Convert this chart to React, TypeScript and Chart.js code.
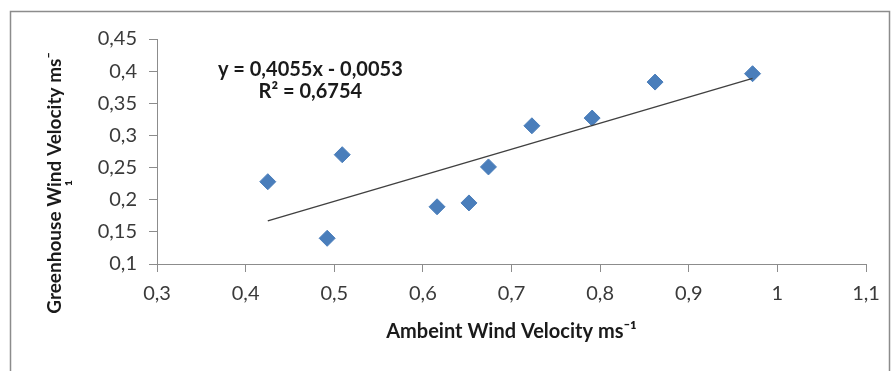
import React, { useEffect, useRef } from "react";
import { Chart, registerables } from "chart.js";

Chart.register(...registerables);

const ambientVelocity = [0.425, 0.492, 0.509, 0.616, 0.652, 0.674, 0.723, 0.791, 0.862, 0.972];
const greenhouseVelocity = [0.228, 0.14, 0.27, 0.189, 0.195, 0.251, 0.315, 0.327, 0.383, 0.396];
const xTickValues = [0.3, 0.4, 0.5, 0.6, 0.7, 0.8, 0.9, 1.0, 1.1];
const yTickValues = [0.1, 0.15, 0.2, 0.25, 0.3, 0.35, 0.4, 0.45];
const trendSlope = 0.4055;
const trendIntercept = -0.0053;
const equationLines = ["y = 0,4055x - 0,0053", "R² = 0,6754"];
const xTitle = "Ambeint Wind Velocity ms⁻¹";
const yTitleLines = ["Greenhouse Wind Velocity ms⁻", "¹"];

const fmt = (v: number) => String(Math.round(v * 100) / 100).replace(".", ",");

const FONT = "Lato, 'Open Sans', sans-serif";

const decorPlugin = {
  id: "decor",
  beforeDraw(chart: any) {
    const ctx = chart.ctx;
    ctx.save();
    ctx.fillStyle = "#ffffff";
    ctx.fillRect(0, 0, chart.width, chart.height);
    ctx.strokeStyle = "#8c8c8c";
    ctx.lineWidth = 1.5;
    ctx.beginPath();
    ctx.moveTo(10.5, chart.height + 5);
    ctx.lineTo(10.5, 11.5);
    ctx.lineTo(889.5, 11.5);
    ctx.lineTo(889.5, chart.height + 5);
    ctx.stroke();
    ctx.restore();
  },
  afterDraw(chart: any) {
    const ctx = chart.ctx;
    const area = chart.chartArea;
    ctx.save();
    ctx.fillStyle = "#1a1a1a";
    ctx.textAlign = "center";
    ctx.textBaseline = "middle";
    // y title
    ctx.font = `bold 19px ${FONT}`;
    const cy = area.top + 144;
    ctx.save();
    ctx.translate(55, cy);
    ctx.rotate(-Math.PI / 2);
    ctx.fillText(yTitleLines[0], 0, 0);
    ctx.restore();
    ctx.save();
    ctx.translate(75, cy);
    ctx.rotate(-Math.PI / 2);
    ctx.fillText(yTitleLines[1], 0, 0);
    ctx.restore();
    // equation
    ctx.font = `bold 20px ${FONT}`;
    const xs = chart.scales.x;
    const ys = chart.scales.y;
    const ex = xs.getPixelForValue(0.473);
    ctx.fillText(equationLines[0], ex, ys.getPixelForValue(0.402));
    ctx.fillText(equationLines[1], ex, ys.getPixelForValue(0.368));
    ctx.restore();
  },
};

export default function App() {
  const ref = useRef<HTMLCanvasElement | null>(null);
  useEffect(() => {
    if (!ref.current) return;
    const minX = Math.min(...ambientVelocity);
    const maxX = Math.max(...ambientVelocity);
    const points = ambientVelocity.map((x, i) => ({ x, y: greenhouseVelocity[i] }));
    const trend = [minX, maxX].map((x) => ({ x, y: trendSlope * x + trendIntercept }));
    const chart = new Chart(ref.current, {
      type: "scatter",
      data: {
        datasets: [
          {
            type: "line",
            data: trend,
            borderColor: "#404040",
            borderWidth: 1.4,
            pointRadius: 0,
            fill: false,
          } as any,
          {
            data: points,
            pointStyle: "rectRot",
            pointRadius: 8,
            backgroundColor: "#4A7EBB",
            borderColor: "#4A7EBB",
            borderWidth: 1,
          },
        ],
      },
      options: {
        animation: false,
        responsive: false,
        layout: { padding: { top: 39, right: 25, bottom: 0, left: 0 } },
        plugins: { legend: { display: false }, tooltip: { enabled: false } },
        scales: {
          x: {
            type: "linear",
            min: 0.3,
            max: 1.1,
            afterBuildTicks: (s: any) => {
              s.ticks = xTickValues.map((v) => ({ value: v }));
            },
            afterFit: (s: any) => {
              s.height = 107;
            },
            ticks: {
              callback: (v: any) => fmt(Number(v)),
              font: { family: FONT, size: 20 },
              color: "#3a3a3a",
              padding: 10,
              maxRotation: 0,
            },
            grid: {
              drawOnChartArea: false,
              drawTicks: true,
              tickLength: 8,
              color: "#8c8c8c",
            },
            border: { color: "#8c8c8c", width: 1 },
            title: {
              display: true,
              text: xTitle,
              font: { family: FONT, size: 20, weight: "bold" },
              color: "#1a1a1a",
              padding: { top: 0, bottom: 27 },
            },
          },
          y: {
            type: "linear",
            min: 0.1,
            max: 0.45,
            afterBuildTicks: (s: any) => {
              s.ticks = yTickValues.map((v) => ({ value: v }));
            },
            afterFit: (s: any) => {
              s.width = 157;
            },
            ticks: {
              callback: (v: any) => fmt(Number(v)),
              font: { family: FONT, size: 20 },
              color: "#3a3a3a",
              padding: 12,
            },
            grid: {
              drawOnChartArea: false,
              drawTicks: true,
              tickLength: 8,
              color: "#8c8c8c",
            },
            border: { color: "#8c8c8c", width: 1 },
          },
        },
      },
      plugins: [decorPlugin],
    });
    return () => chart.destroy();
  }, []);
  return (
    <div style={{ position: "absolute", left: 0, top: 0, width: 891, height: 371 }}>
      <canvas ref={ref} width={891} height={371} />
    </div>
  );
}
